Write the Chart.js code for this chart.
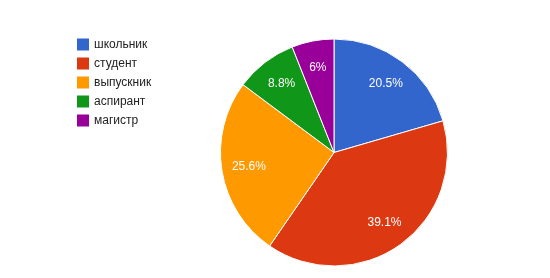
<!DOCTYPE html>
<html>
<head>
<meta charset="utf-8">
<script src="https://cdn.jsdelivr.net/npm/chart.js@4/dist/chart.umd.min.js"></script>
<style>
html,body{margin:0;padding:0;background:#fff;}
#wrap{width:550px;height:278px;position:relative;}
</style>
</head>
<body>
<div id="wrap"><canvas id="c" width="550" height="278"></canvas></div>
<script>
const categories = ["школьник", "студент", "выпускник", "аспирант", "магистр"];
const values = [20.5, 39.1, 25.6, 8.8, 6];
const colors = ["#3366cc", "#dc3912", "#ff9900", "#109618", "#990099"];

const FONT = '"Liberation Sans", Arial, sans-serif';

const legendPlugin = {
  id: 'gLegend',
  afterDraw(chart) {
    const ctx = chart.ctx;
    const labels = chart.data.labels;
    const bg = chart.data.datasets[0].backgroundColor;
    ctx.save();
    ctx.font = '12px ' + FONT;
    ctx.textBaseline = 'middle';
    ctx.textAlign = 'left';
    labels.forEach((l, i) => {
      const cy = 44.5 + i * 19;
      ctx.fillStyle = bg[i];
      ctx.fillRect(77, cy - 6, 12, 12);
      ctx.fillStyle = '#222222';
      ctx.fillText(l, 94, cy + 0.5);
    });
    ctx.restore();
  }
};

const sliceLabelPlugin = {
  id: 'sliceLabels',
  afterDatasetsDraw(chart) {
    const ctx = chart.ctx;
    const meta = chart.getDatasetMeta(0);
    const data = chart.data.datasets[0].data;
    ctx.save();
    ctx.font = '12px ' + FONT;
    ctx.fillStyle = '#ffffff';
    ctx.textAlign = 'center';
    ctx.textBaseline = 'middle';
    meta.data.forEach((arc, i) => {
      const p = arc.getProps(['x','y','startAngle','endAngle','outerRadius'], true);
      const mid = (p.startAngle + p.endAngle) / 2;
      const r = p.outerRadius * 0.76;
      ctx.fillText(data[i] + '%', p.x + Math.cos(mid) * r, p.y + Math.sin(mid) * r);
    });
    ctx.restore();
  }
};

new Chart(document.getElementById('c'), {
  type: 'pie',
  data: {
    labels: categories,
    datasets: [{
      data: values,
      backgroundColor: colors,
      borderColor: '#ffffff',
      borderWidth: 1,
      hoverOffset: 0
    }]
  },
  options: {
    responsive: false,
    animation: false,
    devicePixelRatio: 1,
    layout: { padding: { left: 220, right: 102, top: 38.5, bottom: 11.5 } },
    plugins: { legend: { display: false }, tooltip: { enabled: false } }
  },
  plugins: [legendPlugin, sliceLabelPlugin]
});
</script>
</body>
</html>
